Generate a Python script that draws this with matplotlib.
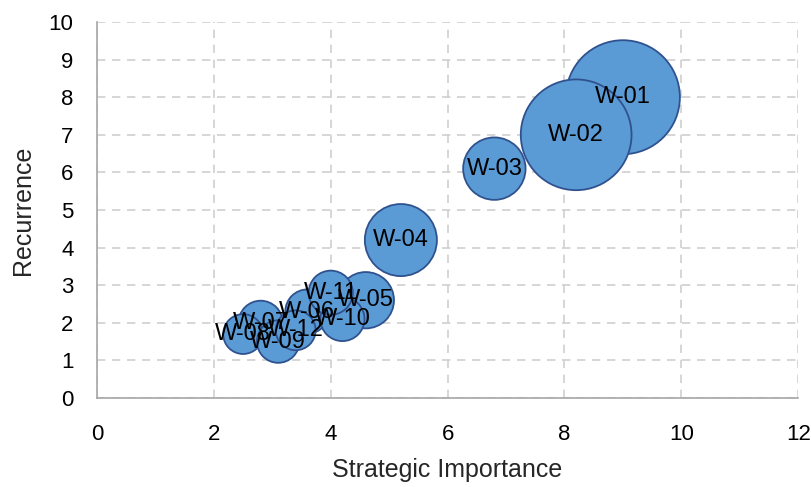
import matplotlib
matplotlib.use('Agg')
import matplotlib.pyplot as plt

plt.rcParams['font.family'] = ['Liberation Sans', 'DejaVu Sans']

# Work items: strategic importance, recurrence and bubble size
items = ['W-01', 'W-02', 'W-03', 'W-04', 'W-05', 'W-06',
         'W-07', 'W-08', 'W-09', 'W-10', 'W-11', 'W-12']
importance = [9.0, 8.2, 6.8, 5.2, 4.6, 3.6, 2.8, 2.5, 3.1, 4.2, 4.0, 3.4]
recurrence = [8.0, 7.0, 6.1, 4.2, 2.6, 2.3, 2.0, 1.7, 1.5, 2.1, 2.8, 1.8]
size = [9.0, 8.5, 2.7, 3.6, 2.2, 1.35, 1.35, 1.1, 1.25, 1.35, 1.35, 1.1]

fig = plt.figure(figsize=(8.12, 4.87), dpi=100)
ax = fig.add_axes([0.1195, 0.1828, 0.8635, 0.772])

# bubble area scaled from the size column
ax.scatter(importance, recurrence, s=[v * 748 for v in size],
           color='#5B9BD5', edgecolors='#2F528F', linewidths=1.3,
           zorder=3, clip_on=False)

for name, x, y in zip(items, importance, recurrence):
    ax.text(x, y, name, ha='center', va='center', fontsize=17,
            color='black', zorder=4)

ax.set_xlim(0, 12)
ax.set_ylim(0, 10)
ax.set_xticks(range(0, 13, 2))
ax.set_yticks(range(0, 11))
ax.grid(True, color='#D0D0D0', linestyle=(0, (5, 4)), linewidth=1.2, zorder=0)
ax.set_axisbelow(True)

for side in ['top', 'right']:
    ax.spines[side].set_visible(False)
for side in ['left', 'bottom']:
    ax.spines[side].set_color('#A6A6A6')
    ax.spines[side].set_linewidth(1.2)

ax.tick_params(length=0, labelsize=16, colors='#000000')
ax.tick_params(axis='x', pad=19)
ax.tick_params(axis='y', pad=17)
ax.set_xlabel('Strategic Importance', fontsize=18, labelpad=9, color='#262626')
ax.set_ylabel('Recurrence', fontsize=18, labelpad=10, color='#262626')

fig.savefig('out.png', dpi=100)
